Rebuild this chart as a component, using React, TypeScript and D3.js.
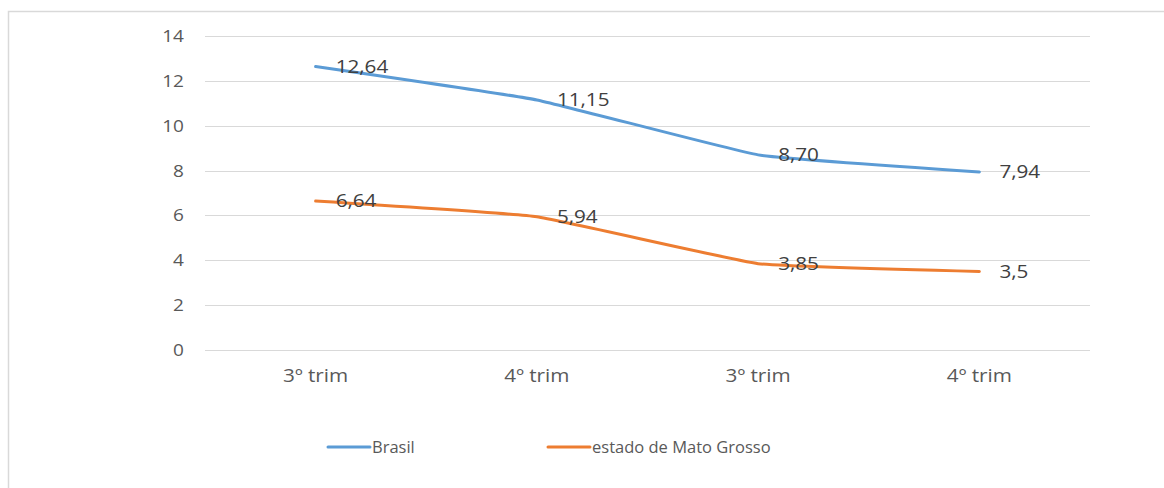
import React, { useRef, useEffect } from 'react';
import * as d3 from 'd3';

const categories = ['3º trim', '4º trim', '3º trim', '4º trim'];
const brasil = [12.64, 11.15, 8.7, 7.94];
const brasilLabels = ['12,64', '11,15', '8,70', '7,94'];
const matoGrosso = [6.64, 5.94, 3.85, 3.5];
const matoGrossoLabels = ['6,64', '5,94', '3,85', '3,5'];
const yTicks = [0, 2, 4, 6, 8, 10, 12, 14];

const WIDTH = 1164;
const HEIGHT = 488;
const FONT = '"Open Sans", "Noto Sans", sans-serif';
// the source image is a little stretched sideways
const STRETCH = 1.15;

export default function App() {
  const svgRef = useRef<SVGSVGElement>(null);

  useEffect(() => {
    const svg = d3.select(svgRef.current);
    svg.selectAll('*').remove();

    svg.append('rect')
      .attr('width', WIDTH)
      .attr('height', HEIGHT)
      .attr('fill', '#fff');

    // chart frame (runs off right and bottom)
    svg.append('rect')
      .attr('x', 8.5)
      .attr('y', 11.5)
      .attr('width', WIDTH + 20)
      .attr('height', HEIGHT + 20)
      .attr('fill', 'none')
      .attr('stroke', '#d9d9d9')
      .attr('stroke-width', 1.5);

    const x = d3.scaleBand()
      .domain(categories.map((c, i) => String(i)))
      .range([205, 1090]);

    const y = d3.scaleLinear()
      .domain([0, 14])
      .range([350, 36]);

    const cx = (i: number) => (x(String(i)) as number) + x.bandwidth() / 2;
    const at = (px: number, py: number, s = STRETCH) => `translate(${px},${py}) scale(${s},1)`;

    // gridlines
    svg.append('g')
      .selectAll('line')
      .data(yTicks)
      .enter()
      .append('line')
      .attr('x1', 205)
      .attr('x2', 1090)
      .attr('y1', d => Math.round(y(d)) + 0.5)
      .attr('y2', d => Math.round(y(d)) + 0.5)
      .attr('stroke', '#d9d9d9')
      .attr('stroke-width', 1);

    // y labels
    svg.append('g')
      .selectAll('text')
      .data(yTicks)
      .enter()
      .append('text')
      .attr('transform', d => at(184, y(d), 1.12))
      .attr('dy', '0.35em')
      .attr('text-anchor', 'end')
      .attr('font-family', FONT)
      .attr('font-size', 17)
      .attr('fill', '#595959')
      .text(d => d);

    // x labels
    svg.append('g')
      .selectAll('text')
      .data(categories)
      .enter()
      .append('text')
      .attr('transform', (d, i) => at(cx(i), 376))
      .attr('dy', '0.35em')
      .attr('text-anchor', 'middle')
      .attr('font-family', FONT)
      .attr('font-size', 18)
      .attr('fill', '#595959')
      .text(d => d);

    const line = d3.line<number>()
      .x((d, i) => cx(i))
      .y(d => y(d))
      .curve(d3.curveCardinal.tension(0.7));

    const series = [
      { name: 'Brasil', values: brasil, labels: brasilLabels, color: '#5b9bd5' },
      { name: 'estado de Mato Grosso', values: matoGrosso, labels: matoGrossoLabels, color: '#ed7d31' }
    ];

    series.forEach(s => {
      svg.append('path')
        .datum(s.values)
        .attr('d', line)
        .attr('fill', 'none')
        .attr('stroke', s.color)
        .attr('stroke-width', 3)
        .attr('stroke-linecap', 'round');
    });

    series.forEach(s => {
      svg.append('g')
        .selectAll('text')
        .data(s.values)
        .enter()
        .append('text')
        .attr('transform', (d, i) => at(cx(i) + 20, y(d)))
        .attr('dy', '0.35em')
        .attr('font-family', FONT)
        .attr('font-size', 18)
        .attr('fill', '#404040')
        .text((d, i) => s.labels[i]);
    });

    // legend
    const legendPos = [328, 548];
    const legend = svg.append('g');
    series.forEach((s, i) => {
      legend.append('line')
        .attr('x1', legendPos[i])
        .attr('x2', legendPos[i] + 42)
        .attr('y1', 447)
        .attr('y2', 447)
        .attr('stroke', s.color)
        .attr('stroke-width', 3)
        .attr('stroke-linecap', 'round');
      legend.append('text')
        .attr('x', legendPos[i] + 44)
        .attr('y', 447)
        .attr('dy', '0.35em')
        .attr('font-family', FONT)
        .attr('font-size', 16.5)
        .attr('fill', '#595959')
        .text(s.name);
    });
  }, []);

  return (
    <div style={{ position: 'fixed', left: 0, top: 0, width: WIDTH, height: HEIGHT }}>
      <svg ref={svgRef} width={WIDTH} height={HEIGHT}></svg>
    </div>
  );
}
